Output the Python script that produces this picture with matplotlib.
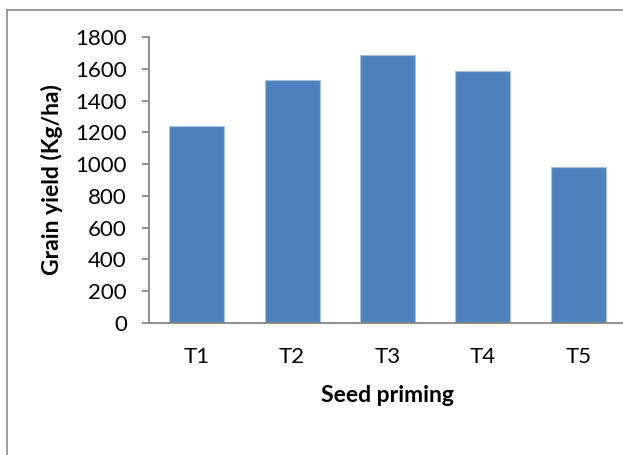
import matplotlib.pyplot as plt
from matplotlib.lines import Line2D

plt.rcParams.update({'font.family': ['Lato', 'DejaVu Sans']})
plt.rcParams.update({'font.size': 16})

# grain yield by seed priming treatment
treatments = ['T1', 'T2', 'T3', 'T4', 'T5']
grain_yield = [1240, 1527, 1687, 1586, 980]
yticks = [0, 200, 400, 600, 800, 1000, 1200, 1400, 1600, 1800]

axis_grey = '#868686'
bar_blue = '#4f81bd'

fig = plt.figure(figsize=(6.23, 4.55), dpi=100)
W, H = 623.0, 455.0
ax = fig.add_axes([149 / W, 1 - 323 / H, 477 / W, 286 / H])

ax.bar(range(len(treatments)), grain_yield, width=0.575, color=bar_blue,
       edgecolor='#a9c1df', linewidth=0.8)

ax.set_xlim(-0.5, len(treatments) - 0.5)
ax.set_ylim(0, 1800)
ax.set_yticks(yticks)
ax.set_xticks(range(len(treatments)))
ax.set_xticklabels(treatments)

for side in ['top', 'right']:
    ax.spines[side].set_visible(False)
for side in ['left', 'bottom']:
    ax.spines[side].set_color(axis_grey)
    ax.spines[side].set_linewidth(1.3)

ax.tick_params(axis='y', direction='out', length=5, width=1.3, color=axis_grey,
               pad=11, labelcolor='black')
ax.tick_params(axis='x', length=0, pad=17, labelcolor='black')

ax.set_ylabel('Grain yield (Kg/ha)', fontweight='bold', fontsize=16.5, va='center')
ax.yaxis.set_label_coords((52 - 149) / 477, 0.5)
ax.set_xlabel('Seed priming', fontweight='bold', fontsize=16.5, va='center')
ax.xaxis.set_label_coords(0.499, (323 - 395) / 286.0)

# chart frame, cut off on the right and bottom like the source image
x0, y0 = 7 / W, 1 - 9.5 / H
fig.add_artist(Line2D([x0, 1.0], [y0, y0], transform=fig.transFigure,
                      color='#8a8a8a', linewidth=1.2))
fig.add_artist(Line2D([x0, x0], [0.0, y0], transform=fig.transFigure,
                      color='#8a8a8a', linewidth=1.2))

fig.savefig('out.png', dpi=100)
